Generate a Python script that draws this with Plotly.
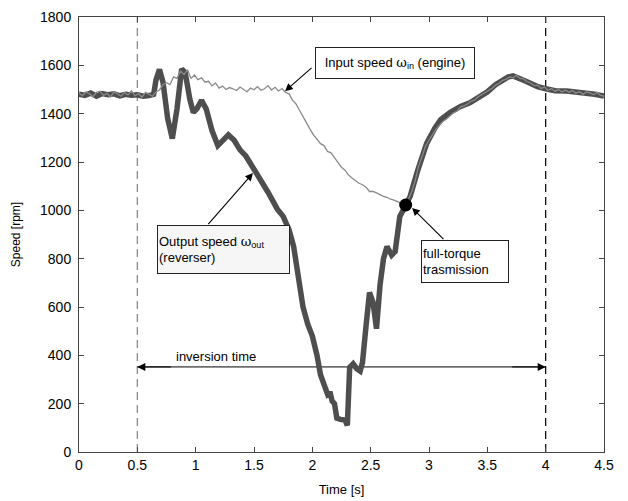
import plotly.graph_objects as go

# ---------------- data ----------------
out_t = [0.00, 0.05, 0.10, 0.15, 0.20, 0.25, 0.30, 0.35, 0.40, 0.45,
         0.50, 0.55, 0.60, 0.64, 0.66, 0.69, 0.72, 0.76, 0.80, 0.84,
         0.88, 0.91, 0.95, 0.98, 1.01, 1.05, 1.09, 1.14, 1.19, 1.23,
         1.28, 1.33, 1.38, 1.43, 1.47, 1.52, 1.57, 1.62, 1.66, 1.70,
         1.75, 1.80, 1.84, 1.88, 1.92, 1.96, 2.00, 2.04, 2.07, 2.10,
         2.13, 2.15, 2.17, 2.19, 2.21, 2.24, 2.28, 2.30, 2.31, 2.32,
         2.35, 2.38, 2.41, 2.43, 2.46, 2.49, 2.52, 2.55, 2.58, 2.61,
         2.64, 2.68, 2.71, 2.75, 2.80, 2.84, 2.90, 2.98, 3.05, 3.10,
         3.18, 3.27, 3.35, 3.41, 3.50, 3.57, 3.63, 3.68, 3.72, 3.76,
         3.80, 3.84, 3.89, 3.93, 4.01, 4.08, 4.18, 4.26, 4.35, 4.42,
         4.50]
out_speed = [1480, 1476, 1485, 1472, 1483, 1478, 1482, 1474, 1480, 1476,
             1478, 1472, 1475, 1480, 1540, 1583, 1530, 1380, 1297, 1420,
             1585, 1570, 1460, 1405, 1420, 1455, 1420, 1330, 1268, 1285,
             1312, 1290, 1250, 1225, 1195, 1150, 1110, 1075, 1040, 1005,
             975, 920, 850, 720, 600, 530, 480, 400, 320, 280,
             240, 250, 210, 200, 140, 135, 132, 110, 200, 350,
             365, 345, 335, 370, 520, 660, 620, 510, 690, 800,
             850, 815, 830, 975, 1020, 1060, 1160, 1277, 1340, 1375,
             1405, 1430, 1445, 1462, 1490, 1520, 1540, 1552, 1556, 1550,
             1540, 1532, 1518, 1512, 1502, 1495, 1494, 1490, 1488, 1480,
             1473]

in_t = [0.00, 0.03, 0.06, 0.09, 0.12, 0.15, 0.18, 0.21, 0.24, 0.27,
        0.30, 0.33, 0.36, 0.39, 0.42, 0.45, 0.48, 0.51, 0.54, 0.57,
        0.60, 0.63, 0.66, 0.69, 0.72, 0.75, 0.78, 0.81, 0.84, 0.87,
        0.90, 0.93, 0.96, 0.99, 1.02, 1.05, 1.08, 1.11, 1.14, 1.17,
        1.20, 1.23, 1.26, 1.29, 1.32, 1.35, 1.38, 1.41, 1.44, 1.47,
        1.50, 1.53, 1.56, 1.59, 1.62, 1.65, 1.68, 1.71, 1.74, 1.77,
        1.80, 1.83, 1.86, 1.89, 1.92, 1.95, 1.98, 2.01, 2.04, 2.07,
        2.10, 2.13, 2.16, 2.19, 2.22, 2.25, 2.28, 2.31, 2.34, 2.37,
        2.40, 2.43, 2.46, 2.49, 2.52, 2.55, 2.58, 2.61, 2.64, 2.67,
        2.70, 2.73, 2.76, 2.79, 2.82, 2.85, 2.88, 2.91, 2.94, 2.97,
        3.00, 3.03, 3.06, 3.09, 3.12, 3.15, 3.18, 3.21, 3.24, 3.27,
        3.30, 3.33, 3.36, 3.39, 3.42, 3.45, 3.48, 3.51, 3.54, 3.57,
        3.60, 3.63, 3.66, 3.69, 3.72, 3.75, 3.78, 3.81, 3.84, 3.87,
        3.90, 3.93, 3.96, 3.99, 4.02, 4.05, 4.08, 4.11, 4.14, 4.17,
        4.20, 4.23, 4.26, 4.29, 4.32, 4.35, 4.38, 4.41, 4.44, 4.47,
        4.50]
in_speed = [1486, 1474, 1490, 1482, 1470, 1488, 1493, 1476, 1484, 1469,
            1491, 1480, 1472, 1487, 1478, 1495, 1474, 1483, 1468, 1488,
            1479, 1472, 1490, 1498, 1520, 1528, 1520, 1552, 1546, 1576,
            1562, 1582, 1546, 1560, 1541, 1548, 1530, 1534, 1515, 1527,
            1506, 1514, 1500, 1508, 1503, 1496, 1510, 1502, 1491, 1506,
            1499, 1512, 1497, 1503, 1516, 1498, 1509, 1494, 1504, 1488,
            1482, 1456, 1440, 1414, 1386, 1358, 1336, 1312, 1296, 1276,
            1268, 1244, 1238, 1218, 1202, 1178, 1166, 1146, 1134, 1124,
            1112, 1106, 1096, 1078, 1078, 1072, 1064, 1058, 1054, 1046,
            1042, 1036, 1030, 1016, 1042, 1075, 1120, 1180, 1220, 1265,
            1290, 1316, 1336, 1352, 1368, 1378, 1392, 1404, 1410, 1428,
            1432, 1440, 1452, 1456, 1470, 1478, 1486, 1496, 1504, 1518,
            1526, 1538, 1542, 1552, 1548, 1558, 1546, 1544, 1532, 1528,
            1516, 1518, 1504, 1510, 1496, 1504, 1492, 1500, 1490, 1498,
            1488, 1496, 1484, 1492, 1480, 1490, 1486, 1478, 1488, 1476,
            1472]

full_torque_t = [2.80]
full_torque_speed = [1022]

inversion_start = 0.5
inversion_end = 4.0
inversion_level = 352

x_ticks = [0, 0.5, 1, 1.5, 2, 2.5, 3, 3.5, 4, 4.5]
x_ticklabels = ["0", "0.5", "1", "1.5", "2", "2.5", "3", "3.5", "4", "4.5"]
y_ticks = [0, 200, 400, 600, 800, 1000, 1200, 1400, 1600, 1800]

FONT = "Liberation Sans, Arial, sans-serif"

fig = go.Figure()

# vertical dashed markers
fig.add_trace(go.Scatter(x=[inversion_start, inversion_start], y=[0, 1800], mode="lines",
                         line=dict(color="#8c8c8c", width=1.3, dash="8px,5px"),
                         hoverinfo="skip", showlegend=False))
fig.add_trace(go.Scatter(x=[inversion_end, inversion_end], y=[0, 1800], mode="lines",
                         line=dict(color="#111111", width=1.3, dash="8px,5px"),
                         hoverinfo="skip", showlegend=False))
# inversion-time line
fig.add_trace(go.Scatter(x=[inversion_start, inversion_end],
                         y=[inversion_level, inversion_level], mode="lines",
                         line=dict(color="black", width=1), hoverinfo="skip",
                         showlegend=False))

# output speed (thick)
fig.add_trace(go.Scatter(x=out_t, y=out_speed, mode="lines", name="Output speed",
                         line=dict(color="#4e4e4e", width=5.5), showlegend=False))
# input speed (thin, noisy)
fig.add_trace(go.Scatter(x=in_t, y=in_speed, mode="lines", name="Input speed",
                         line=dict(color="#8a8a8a", width=1.3), showlegend=False))
# full-torque point
fig.add_trace(go.Scatter(x=full_torque_t, y=full_torque_speed, mode="markers",
                         marker=dict(color="black", size=13), showlegend=False))

annotations = []
# inversion-time arrowheads
for end, tail in ((inversion_start, inversion_start + 0.3), (inversion_end, inversion_end - 0.3)):
    annotations.append(dict(x=end, y=inversion_level, ax=tail, ay=inversion_level,
                            xref="x", yref="y", axref="x", ayref="y", text="",
                            showarrow=True, arrowhead=2, arrowsize=1.6, arrowwidth=1,
                            arrowcolor="black"))
annotations.append(dict(x=1.17, y=397, xref="x", yref="y", text="inversion time",
                        showarrow=False, font=dict(size=13, color="black", family=FONT)))

# pointer arrows
arrows = [((2.006, 1595), (1.766, 1493)),
          ((1.097, 937), (1.491, 1154)),
          ((3.137, 875), (2.855, 1010))]
for (tx, ty), (hx, hy) in arrows:
    annotations.append(dict(x=hx, y=hy, ax=tx, ay=ty, xref="x", yref="y",
                            axref="x", ayref="y", text="", showarrow=True,
                            arrowhead=2, arrowsize=1.4, arrowwidth=1.1,
                            arrowcolor="black"))

# label boxes
annotations.append(dict(x=2.709, y=1608, xref="x", yref="y", showarrow=False,
                        text="Input speed <span style='font-family:DejaVu Serif'>ω</span><sub>in</sub> (engine)",
                        width=156, height=28, borderpad=1, bordercolor="#222", borderwidth=1,
                        bgcolor="white", font=dict(size=13, color="black", family=FONT)))
annotations.append(dict(x=1.239, y=837, xref="x", yref="y", showarrow=False,
                        text="Output speed <span style='font-family:DejaVu Serif'>ω</span><sub>out</sub><br>(reverser)",
                        width=129, height=45, borderpad=1, bordercolor="#222", borderwidth=1,
                        bgcolor="#f6f6f6", align="left",
                        font=dict(size=13, color="black", family=FONT)))
annotations.append(dict(x=3.309, y=787, xref="x", yref="y", showarrow=False,
                        text="full-torque<br>trasmission",
                        width=84, height=39, borderpad=1, bordercolor="#222", borderwidth=1,
                        bgcolor="white", align="left",
                        font=dict(size=13, color="black", family=FONT)))

# the page places the figure 8px in from the top-left corner, so margins compensate
fig.update_layout(
    width=628, height=501,
    margin=dict(l=71, r=32, t=9, b=57),
    paper_bgcolor="white", plot_bgcolor="white",
    font=dict(family=FONT, size=13, color="black"),
    annotations=annotations,
    showlegend=False,
)
fig.update_xaxes(range=[0, 4.5], tickvals=x_ticks, ticktext=x_ticklabels,
                 ticks="inside", ticklen=5, tickcolor="#444", showline=True,
                 linecolor="#444", linewidth=1, mirror="ticks", showgrid=False,
                 zeroline=False, automargin=False, ticklabeloverflow="allow",
                 tickfont=dict(size=14),
                 title=dict(text="Time [s]", font=dict(size=13), standoff=13))
fig.update_yaxes(range=[0, 1800], tickvals=y_ticks,
                 ticks="inside", ticklen=5, tickcolor="#444", showline=True,
                 linecolor="#444", linewidth=1, mirror="ticks", showgrid=False,
                 zeroline=False, automargin=False, ticklabeloverflow="allow",
                 tickfont=dict(size=14), ticklabelstandoff=4,
                 title=dict(text="Speed [rpm]", font=dict(size=12), standoff=16))

fig.write_html("out.html")
